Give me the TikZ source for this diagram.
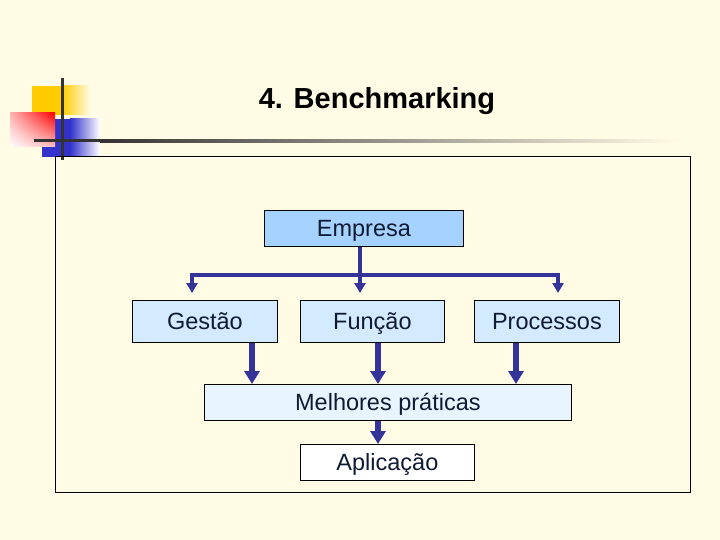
\documentclass[tikz,border=0pt]{standalone}
\usepackage{fontspec}
\setmainfont{Liberation Sans}
\usetikzlibrary{arrows.meta,calc,shadings}
\definecolor{bg}{HTML}{FFFBE5}
\definecolor{arrowblue}{HTML}{333399}
\definecolor{txt}{HTML}{0F1A33}
\definecolor{boxA}{HTML}{A6D2FF}
\definecolor{boxB}{HTML}{D3EAFF}
\definecolor{boxC}{HTML}{E8F4FF}
\definecolor{decoyellow}{HTML}{FFCC00}
\definecolor{decoblue}{HTML}{3333CC}
\definecolor{decoline}{HTML}{333333}
\tikzset{
  box/.style={draw=black, line width=0.8pt, inner sep=0pt, text=txt,
    font=\fontsize{23.5}{25}\selectfont, anchor=north west,
    text height=17pt, text depth=1pt},
  thinarrow/.style={draw=arrowblue, line width=4pt,
    -{Triangle[width=11pt,length=10pt]}},
  thickarrow/.style={draw=arrowblue, line width=6pt,
    -{Triangle[width=15pt,length=13pt]}},
  plainline/.style={draw=arrowblue, line width=4pt}
}
\begin{document}
\begin{tikzpicture}[x=1pt,y=-1pt]
\fill[bg] (0,0) rectangle (720,540);
\useasboundingbox (0,0) rectangle (720,540);
% decoration
\fill[decoyellow] (32,86) rectangle (62,115);
\shade[left color=decoyellow, right color=bg] (62,86) rectangle (90,115);
\fill[decoblue] (42,119) rectangle (70,157);
\shade[left color=decoblue, right color=white] (70,119) rectangle (100,157);
\shade[upper right=red, lower left=white, upper left={red!30!white}, lower right={red!25!white}] (10,113) rectangle (55,147);
\fill[decoline] (34,139.5) rectangle (100,142.5);
\shade[left color=decoline, right color=bg] (100,139.5) rectangle (680,142.5);
\fill[decoline] (60.5,78) rectangle (63.5,160);
% title
\node[font=\fontsize{29}{32}\selectfont\bfseries, text=black] (title) at (377,101) {4. Benchmarking};
% frame
\draw[black, line width=0.8pt] (55,156) rectangle (690,492);
% boxes
\node[box, fill=boxA, minimum width=199pt, minimum height=36pt] (emp) at (264,210) {Empresa};
\node[box, fill=boxB, minimum width=145pt, minimum height=42pt] (ges) at (132,300) {Gestão};
\node[box, fill=boxB, minimum width=144pt, minimum height=42pt] (fun) at (300,300) {Função};
\node[box, fill=boxB, minimum width=145pt, minimum height=42pt] (pro) at (474,300) {Processos};
\node[box, fill=boxC, minimum width=367pt, minimum height=36pt] (mel) at (204,384) {Melhores práticas};
\node[box, fill=white, minimum width=174pt, minimum height=36pt] (apl) at (300,444) {Aplicação};
% connector coordinates
\coordinate (hub) at (360,275);
\coordinate (hl) at (192,275);
\coordinate (hr) at (558,275);
\coordinate (tl) at (192,293);
\coordinate (tm) at (360,293);
\coordinate (tr) at (558,293);
\coordinate (c1) at (252,0);
\coordinate (c2) at (378,0);
\coordinate (c3) at (516,0);
% connectors
\draw[plainline] (emp.south -| hub) -- (hub);
\draw[plainline] (hl) -- (hr);
\draw[thinarrow] ([yshift=2pt]hl) -- (tl);
\draw[thinarrow] (hub) -- (tm);
\draw[thinarrow] ([yshift=2pt]hr) -- (tr);
\draw[thickarrow] (ges.south -| c1) -- (mel.north -| c1);
\draw[thickarrow] (fun.south -| c2) -- (mel.north -| c2);
\draw[thickarrow] (pro.south -| c3) -- (mel.north -| c3);
\draw[thickarrow] (mel.south -| c2) -- (apl.north -| c2);
\end{tikzpicture}
\end{document}
